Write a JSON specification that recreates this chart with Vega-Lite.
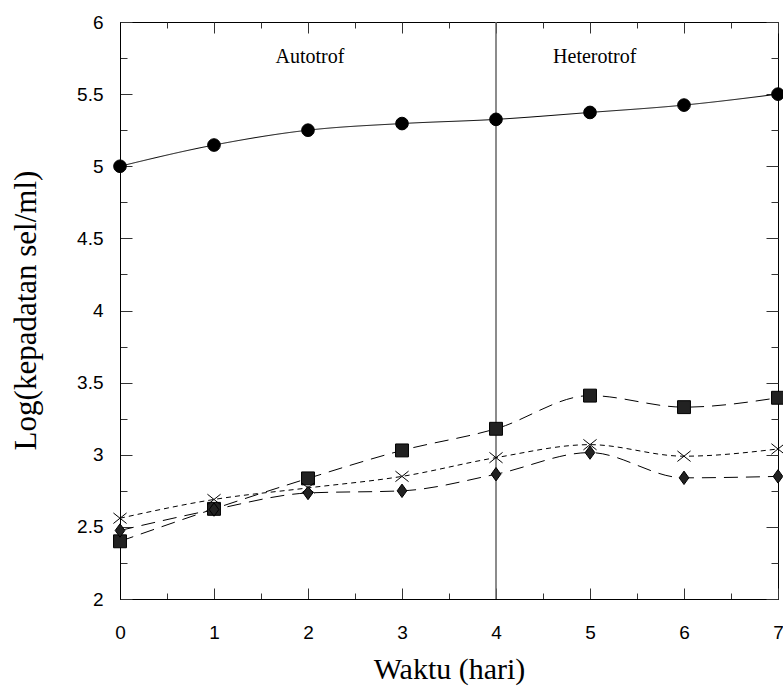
{
  "$schema": "https://vega.github.io/schema/vega-lite/v6.json",
  "width": 658,
  "height": 577,
  "autosize": {"type": "none"},
  "padding": {"left": 120, "top": 22, "right": 5, "bottom": 89},
  "background": "#ffffff",
  "config": {
    "view": {"stroke": "#000000", "strokeWidth": 1},
    "axis": {"grid": false, "tickColor": "#333333", "tickWidth": 1, "domainColor": "#000000", "titleFont": "Liberation Serif", "titleFontWeight": "normal"}
  },
  "datasets": {
    "series": [
      {"s": "A", "day": 0, "v": 5.0},
      {"s": "A", "day": 1, "v": 5.147},
      {"s": "A", "day": 2, "v": 5.25},
      {"s": "A", "day": 3, "v": 5.296},
      {"s": "A", "day": 4, "v": 5.325},
      {"s": "A", "day": 5, "v": 5.373},
      {"s": "A", "day": 6, "v": 5.424},
      {"s": "A", "day": 7, "v": 5.5},
      {"s": "B", "day": 0, "v": 2.4},
      {"s": "B", "day": 1, "v": 2.625},
      {"s": "B", "day": 2, "v": 2.836},
      {"s": "B", "day": 3, "v": 3.03},
      {"s": "B", "day": 4, "v": 3.18},
      {"s": "B", "day": 5, "v": 3.41},
      {"s": "B", "day": 6, "v": 3.33},
      {"s": "B", "day": 7, "v": 3.395},
      {"s": "C", "day": 0, "v": 2.56},
      {"s": "C", "day": 1, "v": 2.69},
      {"s": "C", "day": 2, "v": 2.77},
      {"s": "C", "day": 3, "v": 2.85},
      {"s": "C", "day": 4, "v": 2.98},
      {"s": "C", "day": 5, "v": 3.07},
      {"s": "C", "day": 6, "v": 2.99},
      {"s": "C", "day": 7, "v": 3.04},
      {"s": "D", "day": 0, "v": 2.475},
      {"s": "D", "day": 1, "v": 2.62},
      {"s": "D", "day": 2, "v": 2.735},
      {"s": "D", "day": 3, "v": 2.75},
      {"s": "D", "day": 4, "v": 2.865},
      {"s": "D", "day": 5, "v": 3.015},
      {"s": "D", "day": 6, "v": 2.84},
      {"s": "D", "day": 7, "v": 2.85}
    ],
    "labels": [
      {"label": "Autotrof", "day": 2.02, "v": 5.716},
      {"label": "Heterotrof", "day": 5.05, "v": 5.716}
    ],
    "divider": [
      {"day": 4}
    ]
  },
  "resolve": {"axis": {"x": "independent", "y": "independent"}},
  "layer": [
    {
      "data": {"name": "divider"},
      "mark": {"type": "rule", "color": "#666666", "strokeWidth": 1.5},
      "encoding": {
        "x": {
          "field": "day", "type": "quantitative",
          "scale": {"domain": [0, 7], "nice": false, "zero": false},
          "axis": {
            "orient": "bottom",
            "values": [0, 0.5, 1, 1.5, 2, 2.5, 3, 3.5, 4, 4.5, 5, 5.5, 6, 6.5, 7],
            "labelExpr": "datum.value % 1 == 0 ? format(datum.value, 'd') : ''",
            "tickSize": {"condition": {"test": "datum.value % 1 == 0", "value": -11}, "value": -6},
            "labelPadding": 35,
            "labelFont": "Liberation Sans", "labelFontSize": 19, "labelColor": "#000000",
            "labelFlush": false, "labelOverlap": false, "labelBound": false,
            "title": "Waktu (hari)", "titleFont": "Liberation Serif", "titleFontSize": 30,
            "titleFontWeight": "normal", "titleColor": "#000000",
            "titleBaseline": "alphabetic", "titleY": 79
          }
        }
      }
    },
    {
      "data": {"name": "series"},
      "mark": {"type": "line", "color": "#000000", "strokeWidth": 1, "interpolate": "monotone"},
      "encoding": {
        "x": {"field": "day", "type": "quantitative", "axis": null},
        "y": {
          "field": "v", "type": "quantitative",
          "scale": {"domain": [2, 6], "nice": false, "zero": false},
          "axis": {
            "orient": "left",
            "values": [2, 2.25, 2.5, 2.75, 3, 3.25, 3.5, 3.75, 4, 4.25, 4.5, 4.75, 5, 5.25, 5.5, 5.75, 6],
            "labelExpr": "datum.value % 0.5 == 0 ? format(datum.value, '~g') : ''",
            "tickSize": {"condition": {"test": "datum.value % 0.5 == 0", "value": -12}, "value": -7},
            "labelPadding": 29,
            "labelFont": "Liberation Sans", "labelFontSize": 19, "labelColor": "#000000",
            "labelFlush": false, "labelOverlap": false, "labelBound": false,
            "title": "Log(kepadatan sel/ml)", "titleFont": "Liberation Serif", "titleFontSize": 31,
            "titleFontWeight": "normal", "titleColor": "#000000",
            "titleBaseline": "alphabetic", "titleX": -85, "titleY": 288, "titleAngle": 270
          }
        },
        "detail": {"field": "s", "type": "nominal"},
        "strokeDash": {
          "field": "s", "type": "nominal",
          "scale": {"domain": ["A", "B", "C", "D"], "range": [[1, 0], [14, 8], [5, 4], [14, 8]]},
          "legend": null
        }
      }
    },
    {
      "data": {"name": "series"},
      "mark": {"type": "point", "filled": true, "stroke": "#000000", "strokeWidth": 1, "opacity": 1},
      "encoding": {
        "x": {
          "field": "day", "type": "quantitative",
          "axis": {
            "orient": "top",
            "values": [0, 0.5, 1, 1.5, 2, 2.5, 3, 3.5, 4, 4.5, 5, 5.5, 6, 6.5, 7],
            "labels": false, "domain": false, "title": null,
            "tickSize": {"condition": {"test": "datum.value % 1 == 0", "value": -11}, "value": -6}
          }
        },
        "y": {
          "field": "v", "type": "quantitative",
          "axis": {
            "orient": "right",
            "values": [2, 2.25, 2.5, 2.75, 3, 3.25, 3.5, 3.75, 4, 4.25, 4.5, 4.75, 5, 5.25, 5.5, 5.75, 6],
            "labels": false, "domain": false, "title": null,
            "tickSize": {"condition": {"test": "datum.value % 0.5 == 0", "value": -12}, "value": -7}
          }
        },
        "shape": {
          "field": "s", "type": "nominal",
          "scale": {"domain": ["A", "B", "C", "D"], "range": ["circle", "square", "M-1,-0.8L1,0.8M-1,0.8L1,-0.8", "M0,-1L0.72,0L0,1L-0.72,0Z"]},
          "legend": null
        },
        "fill": {
          "field": "s", "type": "nominal",
          "scale": {"domain": ["A", "B", "C", "D"], "range": ["#000000", "#222222", "transparent", "#222222"]},
          "legend": null
        },
        "size": {
          "field": "s", "type": "nominal",
          "scale": {"domain": ["A", "B", "C", "D"], "range": [160, 180, 150, 120]},
          "legend": null
        }
      }
    },
    {
      "data": {"name": "labels"},
      "mark": {"type": "text", "font": "Liberation Serif", "fontSize": 20, "color": "#000000", "align": "center", "baseline": "alphabetic"},
      "encoding": {
        "x": {"field": "day", "type": "quantitative", "axis": null},
        "y": {"field": "v", "type": "quantitative", "axis": null},
        "text": {"field": "label", "type": "nominal"}
      }
    }
  ]
}
